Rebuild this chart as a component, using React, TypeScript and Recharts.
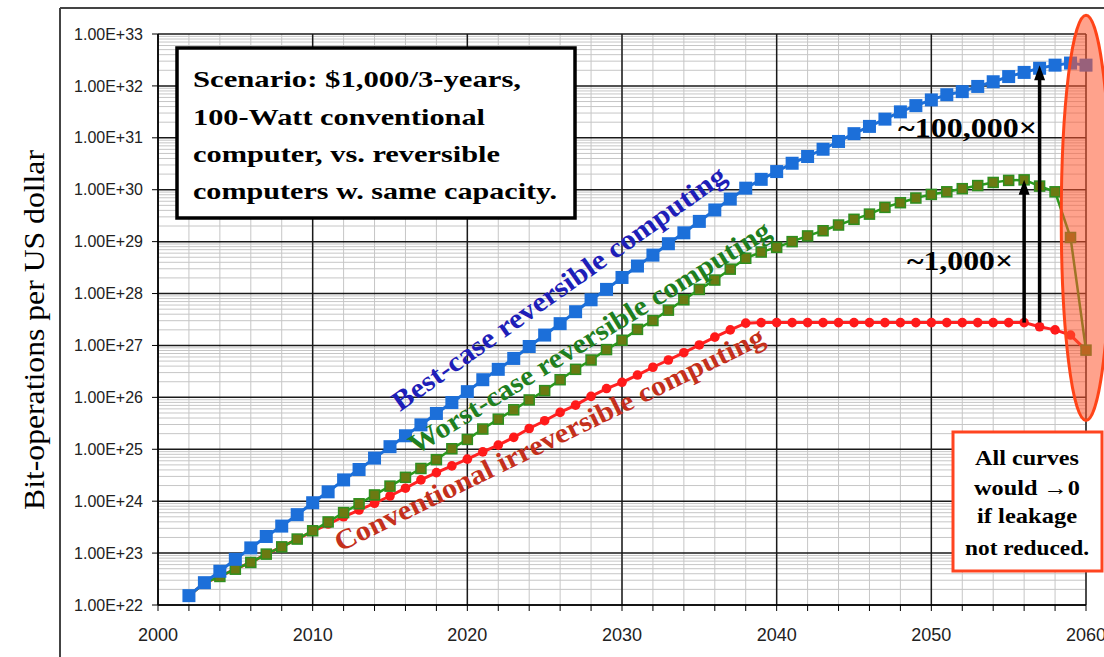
import { LineChart, Line, XAxis, YAxis, ReferenceLine, ReferenceArea } from "recharts"

// year of every marker
const years = [
  2002, 2003, 2004, 2005, 2006, 2007, 2008, 2009, 2010, 2011,
  2012, 2013, 2014, 2015, 2016, 2017, 2018, 2019, 2020, 2021,
  2022, 2023, 2024, 2025, 2026, 2027, 2028, 2029, 2030, 2031,
  2032, 2033, 2034, 2035, 2036, 2037, 2038, 2039, 2040, 2041,
  2042, 2043, 2044, 2045, 2046, 2047, 2048, 2049, 2050, 2051,
  2052, 2053, 2054, 2055, 2056, 2057, 2058, 2059, 2060,
]

// series values as powers of ten (bit-operations per US dollar)
const bestCaseExp = [
  22.18, 22.43, 22.65, 22.88, 23.1, 23.32, 23.52, 23.74, 23.97, 24.18,
  24.41, 24.61, 24.83, 25.05, 25.26, 25.47, 25.69, 25.9, 26.11, 26.34,
  26.54, 26.75, 26.98, 27.2, 27.42, 27.65, 27.88, 28.08, 28.31, 28.53,
  28.74, 28.96, 29.17, 29.39, 29.61, 29.82, 30.03, 30.2, 30.35, 30.51,
  30.64, 30.78, 30.93, 31.08, 31.22, 31.36, 31.5, 31.62, 31.73, 31.83,
  31.89, 31.99, 32.08, 32.18, 32.26, 32.34, 32.4, 32.44, 32.4,
]
const worstCaseExp = [
  22.18, 22.42, 22.55, 22.69, 22.82, 22.98, 23.12, 23.27, 23.43, 23.6,
  23.78, 23.95, 24.12, 24.29, 24.46, 24.63, 24.8, 25.01, 25.19, 25.39,
  25.58, 25.76, 25.95, 26.13, 26.34, 26.54, 26.72, 26.92, 27.1, 27.31,
  27.48, 27.68, 27.88, 28.08, 28.26, 28.47, 28.68, 28.8, 28.89, 29.0,
  29.11, 29.21, 29.32, 29.43, 29.53, 29.66, 29.75, 29.84, 29.91, 29.96,
  30.02, 30.08, 30.14, 30.18, 30.19, 30.07, 29.96, 29.08, 26.91,
]
const conventionalExp = [
  22.18, 22.42, 22.55, 22.69, 22.82, 22.98, 23.12, 23.27, 23.42, 23.56,
  23.7, 23.83, 23.96, 24.1, 24.25, 24.41, 24.55, 24.68, 24.81, 24.95,
  25.08, 25.23, 25.4, 25.55, 25.71, 25.85, 26.02, 26.17, 26.29, 26.43,
  26.58, 26.72, 26.86, 27.01, 27.16, 27.3, 27.43, 27.44, 27.44, 27.44,
  27.44, 27.44, 27.44, 27.44, 27.44, 27.44, 27.44, 27.44, 27.44, 27.44,
  27.44, 27.44, 27.44, 27.44, 27.44, 27.36, 27.3, 27.2, 26.91,
]

// axes and grid
const yearTicks = [
  2000, 2002, 2004, 2006, 2008, 2010, 2012, 2014, 2016, 2018, 2020,
  2022, 2024, 2026, 2028, 2030, 2032, 2034, 2036, 2038, 2040,
  2042, 2044, 2046, 2048, 2050, 2052, 2054, 2056, 2058, 2060,
]
const majorYears = [2000, 2010, 2020, 2030, 2040, 2050, 2060]
const decadeExp = [22, 23, 24, 25, 26, 27, 28, 29, 30, 31, 32, 33]
const minorSteps = [2, 3, 4, 5, 6, 7, 8, 9]

// arrows: year, from exponent, to exponent
const arrows = [
  { year: 2056, from: 27.44, to: 30.19 },
  { year: 2057, from: 27.44, to: 32.4 },
]

const data = years.map((year, i) => ({
  year,
  best: Math.pow(10, bestCaseExp[i]),
  worst: Math.pow(10, worstCaseExp[i]),
  conventional: Math.pow(10, conventionalExp[i]),
}))

const decadeValues = decadeExp.map((e) => Math.pow(10, e))
const minorValues = decadeExp.slice(0, -1).flatMap((e) => minorSteps.map((m) => m * Math.pow(10, e)))

const SERIF = "'Liberation Serif', 'Times New Roman', serif"
const SANS = "'Liberation Sans', Arial, sans-serif"

function BlueSquare(p: any) {
  if (p.cx == null || p.cy == null) return <g key={`b-${p.index}`} />
  return <rect key={`b-${p.index}`} x={p.cx - 6.5} y={p.cy - 6.5} width={13} height={13} fill="#1c6fd9" />
}

function GreenSquare(p: any) {
  if (p.cx == null || p.cy == null) return <g key={`g-${p.index}`} />
  return (
    <rect key={`g-${p.index}`} x={p.cx - 5} y={p.cy - 5} width={10} height={10} fill="#6b7a12" stroke="#2f8f1f" strokeWidth={1.5} />
  )
}

function RedDot(p: any) {
  if (p.cx == null || p.cy == null) return <g key={`r-${p.index}`} />
  return <circle key={`r-${p.index}`} cx={p.cx} cy={p.cy} r={4.8} fill="#ff1a1a" />
}

function EllipseShape(p: any) {
  const { x, y, width, height } = p
  return (
    <ellipse
      cx={x + width / 2}
      cy={y + height / 2}
      rx={Math.abs(width) / 2}
      ry={Math.abs(height) / 2}
      fill="rgba(255, 85, 45, 0.55)"
      stroke="#ff4418"
      strokeWidth={3}
    />
  )
}

function ArrowShape(p: any) {
  const x = p.x1
  const top = Math.min(p.y1, p.y2)
  const bottom = Math.max(p.y1, p.y2)
  return (
    <g>
      <line x1={x} y1={bottom} x2={x} y2={top + 12} stroke="#000" strokeWidth={3.5} />
      <polygon points={`${x - 5.5},${top + 15} ${x + 5.5},${top + 15} ${x},${top}`} fill="#000" />
    </g>
  )
}

export default function App() {
  return (
    <div style={{ position: "absolute", left: 0, top: 0, width: 1104, height: 657, background: "#fff", overflow: "hidden" }}>
      <LineChart width={1104} height={657} data={data} margin={{ top: 34, right: 18, bottom: 22, left: 68 }}>
        {yearTicks.map((y) => (
          <ReferenceLine key={"vx" + y} x={y} stroke="#c6c6c6" strokeWidth={1} zIndex={-100} />
        ))}
        {minorValues.map((v) => (
          <ReferenceLine key={"hy" + v} y={v} stroke="#c6c6c6" strokeWidth={1} zIndex={-100} />
        ))}
        {majorYears.map((y) => (
          <ReferenceLine key={"VX" + y} x={y} stroke="#1a1a1a" strokeWidth={1.5} zIndex={-90} />
        ))}
        {decadeValues.map((v) => (
          <ReferenceLine key={"HY" + v} y={v} stroke="#1a1a1a" strokeWidth={1.5} zIndex={-90} />
        ))}
        <XAxis
          dataKey="year"
          type="number"
          domain={[2000, 2060]}
          ticks={yearTicks}
          interval={0}
          tickFormatter={(v: number) => (v % 10 === 0 ? String(v) : "")}
          axisLine={{ stroke: "#000", strokeWidth: 1.5 }}
          tickLine={{ stroke: "#000" }}
          tickSize={6}
          tickMargin={17}
          height={30}
          tick={{ fill: "#222", fontSize: 18, fontFamily: SANS }}
        />
        <YAxis
          type="number"
          scale="log"
          domain={[1e22, 1e33]}
          allowDataOverflow
          ticks={decadeValues}
          interval={0}
          tickFormatter={(v: number) => "1.00E+" + Math.round(Math.log10(v))}
          axisLine={{ stroke: "#000", strokeWidth: 1.5 }}
          tickLine={{ stroke: "#000" }}
          tickSize={6}
          tickMargin={9}
          width={90}
          tick={{ fill: "#222", fontSize: 16, fontFamily: SANS }}
        />
        <Line
          type="linear"
          dataKey="conventional"
          stroke="#ff2222"
          strokeWidth={3}
          dot={RedDot}
          activeDot={false}
          isAnimationActive={false}
        />
        <Line
          type="linear"
          dataKey="worst"
          stroke="#2a9a1c"
          strokeWidth={2.5}
          dot={GreenSquare}
          activeDot={false}
          isAnimationActive={false}
        />
        <Line
          type="linear"
          dataKey="best"
          stroke="#1c6fd9"
          strokeWidth={3}
          dot={BlueSquare}
          activeDot={false}
          isAnimationActive={false}
        />
        <ReferenceArea
          x1={2058.4}
          x2={2061.6}
          y1={3.6e25}
          y2={2.3e33}
          ifOverflow="visible"
          shape={EllipseShape}
          zIndex={1500}
        />
        {arrows.map((a) => (
          <ReferenceLine
            key={"arrow" + a.year}
            segment={[
              { x: a.year, y: Math.pow(10, a.from) },
              { x: a.year, y: Math.pow(10, a.to) },
            ]}
            ifOverflow="visible"
            shape={ArrowShape}
            zIndex={1600}
          />
        ))}
      </LineChart>

      <svg width={1104} height={657} style={{ position: "absolute", left: 0, top: 0, pointerEvents: "none" }}>
        {/* frame */}
        <line x1={60} y1={8} x2={60} y2={657} stroke="#444" strokeWidth={2} />
        <line x1={60} y1={8} x2={1104} y2={8} stroke="#444" strokeWidth={2} />

        {/* y title */}
        <text
          x={0}
          y={0}
          transform="translate(44 330) rotate(-90)"
          textAnchor="middle"
          fontFamily={SERIF}
          fontSize={30}
          fill="#000"
          textLength={360}
          lengthAdjust="spacingAndGlyphs"
        >
          Bit-operations per US dollar
        </text>

        {/* scenario box */}
        <rect x={177} y={48} width={398} height={170} fill="#fff" stroke="#000" strokeWidth={3.5} />
        <g fontFamily={SERIF} fontWeight="bold" fontSize={24} fill="#000">
          <text x={193} y={87} textLength={328} lengthAdjust="spacingAndGlyphs">Scenario: $1,000/3-years,</text>
          <text x={193} y={125} textLength={292} lengthAdjust="spacingAndGlyphs">100-Watt conventional</text>
          <text x={193} y={162} textLength={307} lengthAdjust="spacingAndGlyphs">computer, vs. reversible</text>
          <text x={193} y={199} textLength={364} lengthAdjust="spacingAndGlyphs">computers w. same capacity.</text>
        </g>

        {/* series labels */}
        <g fontFamily={SERIF} fontWeight="bold" fontSize={28}>
          <text x={400} y={412} transform="rotate(-35.3 400 412)" fill="#1e1eb8" textLength={402} lengthAdjust="spacingAndGlyphs">
            Best-case reversible computing
          </text>
          <text x={416} y={455} transform="rotate(-31.6 416 455)" fill="#1f7f1f" textLength={419} lengthAdjust="spacingAndGlyphs">
            Worst-case reversible computing
          </text>
          <text x={340} y={552} transform="rotate(-26.1 340 552)" fill="#c4301c" textLength={475} lengthAdjust="spacingAndGlyphs">
            Conventional irreversible computing
          </text>
        </g>

        {/* ratio labels */}
        <g fontFamily={SERIF} fontWeight="bold" fill="#000">
          <text x={898} y={137} fontSize={27} textLength={139} lengthAdjust="spacingAndGlyphs">~100,000×</text>
          <text x={907} y={270} fontSize={28} textLength={106} lengthAdjust="spacingAndGlyphs">~1,000×</text>
        </g>

        {/* leakage note */}
        <rect x={953} y={432} width={149} height={139} fill="#fff" stroke="#ff4420" strokeWidth={3} />
        <g fontFamily={SERIF} fontWeight="bold" fontSize={21} fill="#000" textAnchor="middle">
          <text x={1027} y={465} textLength={104} lengthAdjust="spacingAndGlyphs">All curves</text>
          <text x={1027} y={495} textLength={106} lengthAdjust="spacingAndGlyphs">would →0</text>
          <text x={1027} y={523} textLength={100} lengthAdjust="spacingAndGlyphs">if leakage</text>
          <text x={1027} y={555} textLength={124} lengthAdjust="spacingAndGlyphs">not reduced.</text>
        </g>
      </svg>
    </div>
  )
}
